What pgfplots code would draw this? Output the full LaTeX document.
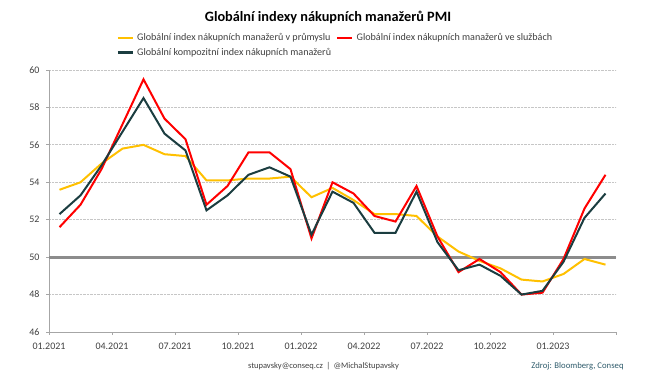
\documentclass[border=0pt]{standalone}
\usepackage{pgfplots}
\pgfplotsset{compat=1.18}
\usepackage{fontspec}
\setmainfont{Carlito}
\definecolor{cYel}{HTML}{FFC000}
\definecolor{cRed}{HTML}{FF0000}
\definecolor{cCom}{HTML}{1B3D40}
\definecolor{cTxt}{HTML}{404040}
\definecolor{cSrc}{HTML}{2E5B6B}
\definecolor{cFifty}{HTML}{8C8C8C}
\begin{document}
\begin{tikzpicture}[x=1pt,y=1pt]
\path[use as bounding box] (0,0) rectangle (650,390);
\node[font=\fontsize{14.3}{16}\selectfont\bfseries] at (328,373) {Globální indexy nákupních manažerů PMI};
\node[font=\fontsize{8.5}{10}\selectfont, text=cTxt] at (323.5,24) {stupavsky@conseq.cz \,|\, @MichalStupavsky};
\node[font=\fontsize{8.7}{10}\selectfont, text=cSrc] at (577.5,24) {Zdroj: Bloomberg, Conseq};
\begin{axis}[
  at={(49pt,58pt)}, anchor=south west,
  scale only axis, width=567pt, height=262pt,
  xmin=0, xmax=27, ymin=46, ymax=60,
  xtick={0,3,...,27},
  xticklabels={01.2021,04.2021,07.2021,10.2021,01.2022,04.2022,07.2022,10.2022,01.2023,},
  ytick={46,48,...,60},
  axis x line*=bottom, axis y line*=left,
  axis line style={-, draw=gray!70, line width=0.8pt},
  tick style={draw=gray!70, line width=0.8pt},
  major tick length=3pt,
  tick align=outside,
  ymajorgrids,
  major grid style={densely dotted, gray!45, line width=0.8pt},
  ticklabel style={font=\fontsize{10}{12}\selectfont, text=cTxt},
  /pgf/number format/assume math mode=true,
  xticklabel style={yshift=-4pt},
  yticklabel style={xshift=-3pt},
  legend columns=2,
  legend cell align=left,
  legend style={at={(0.119,1.155)}, anchor=north west, draw=none, fill=none,
    inner xsep=0pt,
    font=\fontsize{10.1}{12}\selectfont, text=cTxt,
    /tikz/every odd column/.append style={column sep=1pt},
    /tikz/every even column/.append style={column sep=3pt},
    row sep=2pt},
  legend image code/.code={\draw[#1, line width=2.5pt] (0pt,0pt) -- (15pt,0pt);},
  clip=false,
]
\addplot[forget plot, cFifty, line width=3pt] coordinates {(0,50) (27,50)};
\addplot[cYel, line width=2pt] coordinates {
(0.5,53.6) (1.5,54.0) (2.5,55.0) (3.5,55.8) (4.5,56.0) (5.5,55.5) (6.5,55.4) (7.5,54.1) (8.5,54.1)
(9.5,54.2) (10.5,54.2) (11.5,54.3) (12.5,53.2) (13.5,53.7) (14.5,53.05) (15.5,52.3) (16.5,52.3) (17.5,52.2)
(18.5,51.1) (19.5,50.3) (20.5,49.8) (21.5,49.4) (22.5,48.8) (23.5,48.7) (24.5,49.1) (25.5,49.9) (26.5,49.6)};
\addlegendentry{Globální index nákupních manažerů v průmyslu}
\addplot[cRed, line width=2pt] coordinates {
(0.5,51.6) (1.5,52.8) (2.5,54.7) (3.5,57.1) (4.5,59.5) (5.5,57.4) (6.5,56.3) (7.5,52.8) (8.5,53.8)
(9.5,55.6) (10.5,55.6) (11.5,54.7) (12.5,51.0) (13.5,54.0) (14.5,53.4) (15.5,52.2) (16.5,51.9) (17.5,53.8)
(18.5,51.1) (19.5,49.2) (20.5,49.9) (21.5,49.2) (22.5,48.0) (23.5,48.1) (24.5,49.9) (25.5,52.6) (26.5,54.4)};
\addlegendentry{Globální index nákupních manažerů ve službách}
\addplot[cCom, line width=2pt] coordinates {
(0.5,52.3) (1.5,53.3) (2.5,54.9) (3.5,56.7) (4.5,58.5) (5.5,56.6) (6.5,55.7) (7.5,52.5) (8.5,53.3)
(9.5,54.4) (10.5,54.8) (11.5,54.3) (12.5,51.2) (13.5,53.5) (14.5,52.9) (15.5,51.3) (16.5,51.3) (17.5,53.5)
(18.5,50.8) (19.5,49.3) (20.5,49.6) (21.5,49.0) (22.5,48.0) (23.5,48.2) (24.5,49.75) (25.5,52.1) (26.5,53.4)};
\addlegendentry{Globální kompozitní index nákupních manažerů}
\end{axis}
\end{tikzpicture}
\end{document}
